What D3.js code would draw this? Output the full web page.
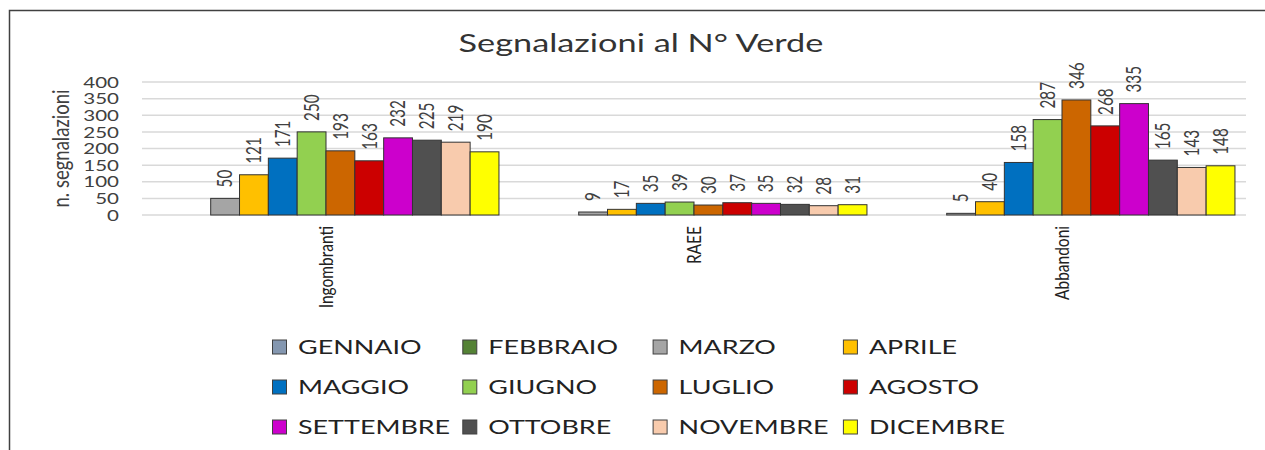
<html>
  <head>
    <script src="https://d3js.org/d3.v7.min.js"></script>
  </head>
  <body style="margin:0;background:#fff;">
    <div id="chart"></div>
    <script>
      // data
      const categories = ["Ingombranti", "RAEE", "Abbandoni"];
      const months = ["GENNAIO", "FEBBRAIO", "MARZO", "APRILE", "MAGGIO", "GIUGNO",
                      "LUGLIO", "AGOSTO", "SETTEMBRE", "OTTOBRE", "NOVEMBRE", "DICEMBRE"];
      const ingombranti = [null, null, 50, 121, 171, 250, 193, 163, 232, 225, 219, 190];
      const raee = [null, null, 9, 17, 35, 39, 30, 37, 35, 32, 28, 31];
      const abbandoni = [null, null, 5, 40, 158, 287, 346, 268, 335, 165, 143, 148];
      const yTicks = [0, 50, 100, 150, 200, 250, 300, 350, 400];
      const monthColors = ["#8497B0", "#548235", "#A5A5A5", "#FFC000", "#0070C0", "#92D050",
                           "#CC6600", "#CC0000", "#CC00CC", "#505050", "#F8CBAD", "#FFFF00"];

      const series = [ingombranti, raee, abbandoni];
      const data = categories.map((c, i) => ({
        cat: c,
        values: months.map((m, j) => ({month: m, value: series[i][j]}))
      }));

      const width = 1265, height = 450;
      const margin = {top: 82, right: 19, bottom: 235, left: 142};
      const font = "Lato, 'Open Sans', sans-serif";

      const color = d3.scaleOrdinal().domain(months).range(monthColors);

      const svg = d3.create("svg")
        .attr("width", width)
        .attr("height", height)
        .style("font-family", font);

      // outer frame (left and top edge visible)
      svg.append("path")
        .attr("d", `M9.5,${height} L9.5,10.5 L${width},10.5`)
        .attr("fill", "none")
        .attr("stroke", "#404040")
        .attr("stroke-width", 1.5);

      const x0 = d3.scaleBand()
        .domain(categories)
        .range([margin.left, width - margin.right])
        .paddingInner(0.06)
        .paddingOuter(0.03);

      const x1 = d3.scaleBand()
        .domain(months)
        .range([0, x0.bandwidth()]);

      const y = d3.scaleLinear()
        .domain([0, 400])
        .range([height - margin.bottom, margin.top]);

      // gridlines
      svg.append("g")
        .selectAll("line")
        .data(yTicks)
        .join("line")
          .attr("x1", margin.left)
          .attr("x2", width - margin.right)
          .attr("y1", d => y(d))
          .attr("y2", d => y(d))
          .attr("stroke", "#d9d9d9")
          .attr("stroke-width", 1.5);

      // y tick labels
      svg.append("g")
        .selectAll("text")
        .data(yTicks)
        .join("text")
          .attr("transform", d => `translate(119,${y(d)}) scale(1.3,1)`)
          .attr("text-anchor", "end")
          .attr("dy", "0.36em")
          .attr("font-size", 15.8)
          .attr("fill", "#404040")
          .text(d => d);

      // y axis title
      svg.append("text")
        .attr("transform", `translate(62,${(y(0) + y(400)) / 2}) scale(1.2,1) rotate(-90)`)
        .attr("text-anchor", "middle")
        .attr("dy", "0.33em")
        .attr("font-size", 18.5)
        .attr("fill", "#404040")
        .text("n. segnalazioni");

      // title
      svg.append("text")
        .attr("transform", `translate(641,52) scale(1.4,1)`)
        .attr("text-anchor", "middle")
        .attr("font-size", 24.5)
        .attr("fill", "#333")
        .text("Segnalazioni al N° Verde");

      const groups = svg.append("g")
        .selectAll("g")
        .data(data)
        .join("g")
          .attr("transform", d => `translate(${x0(d.cat)},0)`);

      const present = d => d.values.filter(v => v.value !== null);

      groups.selectAll("rect")
        .data(present)
        .join("rect")
          .attr("x", d => x1(d.month))
          .attr("y", d => y(d.value))
          .attr("width", x1.bandwidth())
          .attr("height", d => y(0) - y(d.value))
          .attr("fill", d => color(d.month))
          .attr("stroke", "#333")
          .attr("stroke-width", 1);

      // rotated value labels
      groups.selectAll("text")
        .data(present)
        .join("text")
          .attr("transform", d =>
            `translate(${x1(d.month) + x1.bandwidth() / 2},${y(d.value) - 11}) scale(1.34,1) rotate(-90)`)
          .attr("dy", "0.36em")
          .attr("font-size", 15.3)
          .attr("fill", "#404040")
          .text(d => d.value);

      // category labels
      svg.append("g")
        .selectAll("text")
        .data(categories)
        .join("text")
          .attr("transform", d => `translate(${x0(d) + x0.bandwidth() / 2},226) scale(1.3,1) rotate(-90)`)
          .attr("text-anchor", "end")
          .attr("dy", "0.35em")
          .attr("font-size", 15.5)
          .attr("fill", "#222")
          .text(d => d);

      // legend: 4 columns x 3 rows
      const legend = svg.append("g")
        .selectAll("g")
        .data(months)
        .join("g")
          .attr("transform", (d, i) => `translate(${272 + (i % 4) * 190.3},${347 + Math.floor(i / 4) * 40})`);

      legend.append("rect")
        .attr("x", 0.5)
        .attr("y", -7)
        .attr("width", 14)
        .attr("height", 14)
        .attr("fill", d => color(d))
        .attr("stroke", "#404040")
        .attr("stroke-width", 1);

      legend.append("text")
        .attr("transform", "translate(26,0) scale(1.38,1)")
        .attr("dy", "0.36em")
        .attr("font-size", 19.5)
        .attr("fill", "#222")
        .text(d => d);

      document.getElementById("chart").appendChild(svg.node());
    </script>
  </body>
</html>
